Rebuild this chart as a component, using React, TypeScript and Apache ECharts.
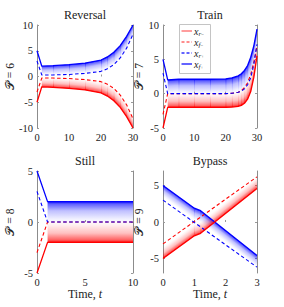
import { useEffect, useRef } from 'react';
import * as echarts from 'echarts';

// ---- Reversal (P = 6) ----
const revT = [0, 1.5, 5, 10, 15, 20, 22, 24, 26, 28, 30];
const revBlueSolid = [5, 2.0, 2.1, 2.3, 2.6, 3.2, 3.8, 4.7, 6.0, 7.8, 10];
const revBlueDash = [3, 0.3, 0.3, 0.4, 0.6, 1.0, 1.5, 2.3, 3.6, 5.5, 8.2];
const revRedSolid = [-5, -2.0, -2.1, -2.3, -2.6, -3.2, -3.8, -4.7, -6.0, -7.8, -10];
const revRedDash = [-3, -0.3, -0.3, -0.4, -0.6, -1.0, -1.5, -2.3, -3.6, -5.5, -8.2];

// ---- Train (P = 7) ----
const trainT = [0, 1.5, 5, 10, 15, 20, 22, 24, 25, 26, 27, 28, 29, 30];
const trainBlueSolid = [5, 2.0, 2.1, 2.1, 2.1, 2.15, 2.3, 2.6, 2.9, 3.4, 4.1, 5.3, 7.0, 9.4];
const trainBlueDash = [3, 0, 0, 0, 0, 0, 0.05, 0.2, 0.35, 0.7, 1.3, 2.3, 4.3, 7.2];
const trainRedSolid = [-5, -2, -2, -2, -2, -2, -1.95, -1.85, -1.7, -1.4, -0.8, 0.3, 2.4, 5.5];
const trainRedDash = [-3, 0, 0, 0, 0, 0, 0.05, 0.2, 0.45, 0.9, 1.6, 2.8, 4.6, 7.0];

// ---- Still (P = 8) ----
const stillT = [0, 1.1, 10];
const stillBlueSolid = [5, 2, 2];
const stillBlueDash = [3, 0, 0];
const stillRedSolid = [-5, -2, -2];
const stillRedDash = [-3, 0, 0];

// ---- Bypass (P = 9) ----
const bypT = [0, 1.0, 1.2, 3];
const bypBlueSolid = [5, 1.9, 1.55, -4.6];
const bypBlueFade = [3.5, 0.4, 0.05, -6.1];
const bypRedSolid = [-5, -1.9, -1.55, 4.6];
const bypRedFade = [-3.5, -0.4, -0.05, 6.1];
const bypDashT = [0, 3];
const bypBlueDash = [3, -6.2];
const bypRedDash = [-3, 6.2];

const titles = ['Reversal', 'Train', 'Still', 'Bypass'];
const pLabels = ['𝒫 = 6', '𝒫 = 7', '𝒫 = 8', '𝒫 = 9'];
const xTicks = [[0, 10, 20, 30], [0, 10, 20, 30], [0, 5, 10], [0, 1, 2, 3]];
const yTicks = [[-10, -5, 0, 5, 10], [-5, 0, 5, 10], [-5, 0, 5], [-5, 0, 5]];
const xRanges = [[0, 30], [0, 30], [0, 10], [0, 3]];
const yRanges = [[-10, 10], [-5, 10], [-5, 5], [-7, 7]];
const legendSubs = [['r', '−'], ['f', '−'], ['r', '+'], ['f', '+']];

const SERIF = '"Liberation Serif", "DejaVu Serif", serif';
const BLUE = '#0000ff';
const RED = '#ff0000';

const grids = [
  { left: 37, top: 25, width: 96, height: 103 },
  { left: 163, top: 25, width: 94, height: 103 },
  { left: 37, top: 171, width: 96, height: 102 },
  { left: 163, top: 171, width: 94, height: 102 },
];

function zip(ts: number[], ys: number[]) {
  return ts.map((t, i) => [t, ys[i]]);
}

function line(g: number, ts: number[], ys: number[], color: string, dashed: boolean) {
  return {
    type: 'line',
    xAxisIndex: g,
    yAxisIndex: g * 2,
    data: zip(ts, ys),
    symbol: 'none',
    silent: true,
    z: dashed ? 4 : 5,
    lineStyle: {
      color,
      width: dashed ? 1.1 : 1.3,
      type: dashed ? [3.5, 2.5] : 'solid',
    },
  };
}

function band(g: number, ts: number[], outer: number[], inner: number[], start: number, rgb: string) {
  const data: number[][] = [];
  for (let i = start; i < ts.length - 1; i++) {
    data.push([ts[i], outer[i], inner[i], ts[i + 1], outer[i + 1], inner[i + 1]]);
  }
  const last = data.length - 1;
  return {
    type: 'custom',
    xAxisIndex: g,
    yAxisIndex: g * 2,
    silent: true,
    z: 2,
    clip: true,
    encode: { x: [0, 3], y: [1, 2, 4, 5] },
    data,
    renderItem: (params: any, api: any) => {
      const p0 = api.coord([api.value(0), api.value(1)]);
      const p1 = api.coord([api.value(3), api.value(4)]);
      const q1 = api.coord([api.value(3), api.value(5)]);
      const q0 = api.coord([api.value(0), api.value(2)]);
      let dx = p1[0] - p0[0];
      let dy = p1[1] - p0[1];
      const len = Math.hypot(dx, dy) || 1;
      dx /= len;
      dy /= len;
      const vx = q0[0] - p0[0];
      const vy = q0[1] - p0[1];
      const dot = vx * dx + vy * dy;
      const wx = vx - dot * dx;
      const wy = vy - dot * dy;
      const grad = new echarts.graphic.LinearGradient(
        p0[0], p0[1], p0[0] + wx, p0[1] + wy,
        [
          { offset: 0, color: `rgba(${rgb},0.95)` },
          { offset: 0.12, color: `rgba(${rgb},0.62)` },
          { offset: 0.45, color: `rgba(${rgb},0.25)` },
          { offset: 0.85, color: `rgba(${rgb},0.06)` },
          { offset: 1, color: `rgba(${rgb},0.02)` },
        ],
        true
      );
      // slight overlap with the next piece to hide seams
      const ext = params.dataIndex < last ? 0.6 : 0;
      const p1e = [p1[0] + dx * ext, p1[1] + dy * ext];
      const q1e = [q1[0] + dx * ext, q1[1] + dy * ext];
      return {
        type: 'polygon',
        shape: { points: [p0, p1e, q1e, q0] },
        style: { fill: grad },
      };
    },
  };
}

export default function App() {
  const ref = useRef<HTMLDivElement>(null);
  useEffect(() => {
    if (!ref.current) return;
    const chart = echarts.init(ref.current, undefined, { renderer: 'svg' });

    const xAxis: any[] = [];
    const yAxis: any[] = [];
    grids.forEach((_, g) => {
      xAxis.push({
        gridIndex: g,
        type: 'value',
        min: xRanges[g][0],
        max: xRanges[g][1],
        axisLine: { show: false },
        axisTick: { show: true, inside: true, length: 2, customValues: xTicks[g], lineStyle: { color: '#999' } },
        axisLabel: { customValues: xTicks[g], fontSize: 10.5, color: '#222', margin: 4, fontFamily: SERIF },
        splitLine: { show: false },
      });
      yAxis.push({
        gridIndex: g,
        type: 'value',
        position: 'left',
        min: yRanges[g][0],
        max: yRanges[g][1],
        axisLine: { show: true, lineStyle: { color: '#8c8c8c', width: 1 } },
        axisTick: { show: true, inside: true, length: 2, customValues: yTicks[g], lineStyle: { color: '#999' } },
        axisLabel: { customValues: yTicks[g], fontSize: 10.5, color: '#222', margin: 4, fontFamily: SERIF },
        splitLine: { show: false },
      });
      yAxis.push({
        gridIndex: g,
        type: 'value',
        position: 'right',
        min: yRanges[g][0],
        max: yRanges[g][1],
        axisLine: { show: true, lineStyle: { color: '#8c8c8c', width: 1 } },
        axisTick: { show: true, inside: true, length: 2, customValues: yTicks[g], lineStyle: { color: '#999' } },
        axisLabel: { show: false },
        splitLine: { show: false },
      });
    });

    const series: any[] = [
      // Reversal
      band(0, revT, revBlueSolid, revBlueDash, 1, '0,0,255'),
      band(0, revT, revRedSolid, revRedDash, 1, '255,0,0'),
      line(0, revT, revRedDash, RED, true),
      line(0, revT, revBlueDash, BLUE, true),
      line(0, revT, revRedSolid, RED, false),
      line(0, revT, revBlueSolid, BLUE, false),
      // Train
      band(1, trainT, trainBlueSolid, trainBlueDash, 1, '0,0,255'),
      band(1, trainT, trainRedSolid, trainRedDash, 1, '255,0,0'),
      line(1, trainT, trainRedDash, RED, true),
      line(1, trainT, trainBlueDash, BLUE, true),
      line(1, trainT, trainRedSolid, RED, false),
      line(1, trainT, trainBlueSolid, BLUE, false),
      // Still
      band(2, stillT, stillBlueSolid, stillBlueDash, 1, '0,0,255'),
      band(2, stillT, stillRedSolid, stillRedDash, 1, '255,0,0'),
      line(2, stillT, stillRedDash, RED, true),
      line(2, stillT, stillBlueDash, BLUE, true),
      line(2, stillT, stillRedSolid, RED, false),
      line(2, stillT, stillBlueSolid, BLUE, false),
      // Bypass
      band(3, bypT, bypBlueSolid, bypBlueFade, 0, '0,0,255'),
      band(3, bypT, bypRedSolid, bypRedFade, 0, '255,0,0'),
      line(3, bypDashT, bypRedDash, RED, true),
      line(3, bypDashT, bypBlueDash, BLUE, true),
      line(3, bypT, bypBlueSolid, BLUE, false),
      line(3, bypT, bypRedSolid, RED, false),
    ];

    const graphic: any[] = [];
    grids.forEach((gr, g) => {
      const cx = gr.left + gr.width / 2;
      graphic.push({
        type: 'text',
        x: cx,
        y: gr.top - 10,
        style: { text: titles[g], fontSize: 12, fontFamily: SERIF, fill: '#222', align: 'center', verticalAlign: 'middle' },
      });
      graphic.push({
        type: 'text',
        x: g % 2 === 0 ? 10 : 139,
        y: gr.top + gr.height / 2,
        rotation: Math.PI / 2,
        style: { text: pLabels[g], fontSize: 11.5, fontFamily: SERIF, fill: '#222', align: 'center', verticalAlign: 'middle' },
      });
      if (g >= 2) {
        graphic.push({
          type: 'text',
          x: cx,
          y: 294,
          style: {
            text: '{a|Time, }{b|t}',
            align: 'center',
            verticalAlign: 'middle',
            rich: {
              a: { fontSize: 12, fontFamily: SERIF, fill: '#222' },
              b: { fontSize: 12, fontFamily: SERIF, fontStyle: 'italic', fill: '#222' },
            },
          },
        });
      }
    });

    // legend box (top-right panel)
    const legColors = ['#ff6868', '#ff6868', '#3030ff', '#1010ff'];
    const legDash = [false, true, true, false];
    const legY = [31, 42, 53, 64];
    graphic.push({
      type: 'rect',
      shape: { x: 179.5, y: 24.5, width: 31, height: 49 },
      style: { fill: 'rgba(255,255,255,0.85)', stroke: '#c4c4c4', lineWidth: 1 },
      z: 10,
    });
    legendSubs.forEach((sub, i) => {
      graphic.push({
        type: 'line',
        shape: { x1: 181.5, y1: legY[i], x2: 192, y2: legY[i] },
        style: { stroke: legColors[i], lineWidth: 1.3, lineDash: legDash[i] ? [3, 2] : null },
        z: 11,
      });
      graphic.push({
        type: 'text',
        x: 194,
        y: legY[i],
        z: 11,
        style: {
          text: `{x|x}{s|${sub[0]}}{ss|${sub[1]}}`,
          verticalAlign: 'middle',
          align: 'left',
          rich: {
            x: { fontSize: 10, fontFamily: SERIF, fontStyle: 'italic', fill: '#222', lineHeight: 12 },
            s: { fontSize: 7, fontFamily: SERIF, fontStyle: 'italic', fill: '#222', lineHeight: 8, verticalAlign: 'bottom' },
            ss: { fontSize: 5, fontFamily: SERIF, fill: '#222', lineHeight: 5, verticalAlign: 'bottom' },
          },
        },
      });
    });

    chart.setOption({
      animation: false,
      backgroundColor: '#fff',
      grid: grids.map((g) => ({ ...g, containLabel: false })),
      xAxis,
      yAxis,
      series,
      graphic,
    });
    return () => chart.dispose();
  }, []);

  return <div ref={ref} style={{ position: 'fixed', left: 0, top: 0, width: 284, height: 307 }} />;
}
